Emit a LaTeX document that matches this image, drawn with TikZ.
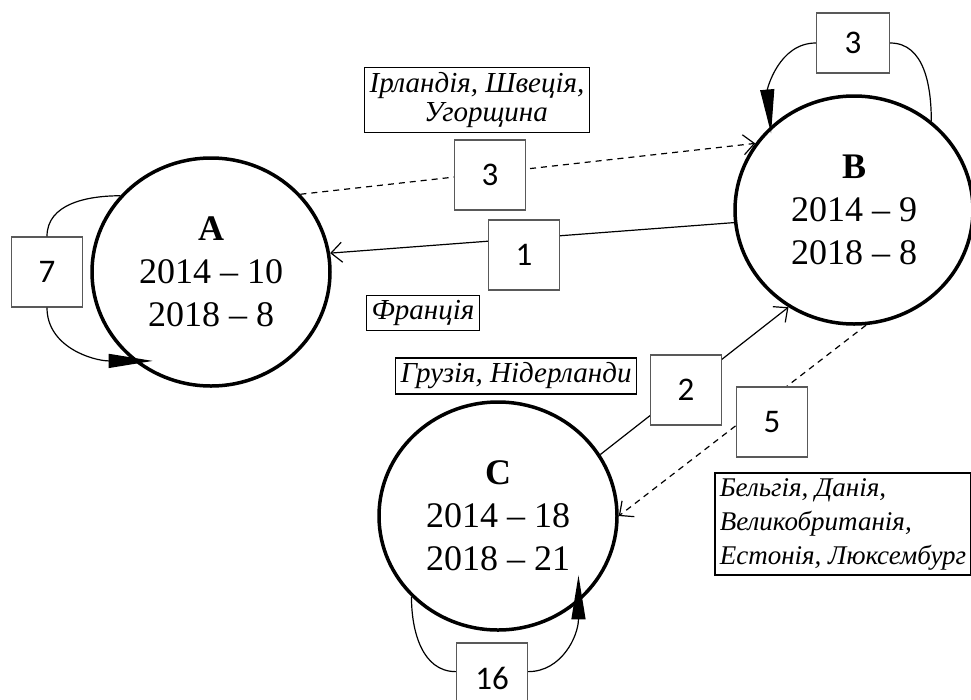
\documentclass[tikz,border=0pt]{standalone}
\usepackage{fontspec}
\setmainfont{Liberation Serif}
\newfontfamily\numfont{Carlito}
\usetikzlibrary{shapes.geometric,arrows.meta}

\begin{document}
\begin{tikzpicture}[x=1pt,y=-1pt]%
  \tikzstyle{group}=[ellipse,draw,line width=3.5pt,minimum width=238pt,minimum height=228pt,inner sep=0,align=center,font=\fontsize{36}{43}\selectfont]
  \tikzstyle{numbox}=[rectangle,draw=black!65,line width=1.3pt,fill=white,minimum width=71pt,minimum height=70pt,font=\numfont\fontsize{33}{36}\selectfont]
  \tikzstyle{countries}=[rectangle,draw,line width=1.6pt,fill=white,inner sep=5pt,font=\itshape\fontsize{29}{34}\selectfont]
  \tikzstyle{flow}=[line width=1.2pt,-{Straight Barb[length=11pt,width=20pt]}]
  \tikzstyle{loopline}=[line width=1.2pt]
  \tikzstyle{loophead}=[loopline,-{Triangle[length=44pt,width=14pt]}]
  \useasboundingbox (0,0) rectangle (971,699);
  \node(A)[group] at (211,272) {\textbf{A}\\2014 – 10\\2018 – 8};
  \node(B)[group] at (854,210) {\textbf{B}\\2014 – 9\\2018 – 8};
  \node(C)[group] at (498,516) {\textbf{C}\\2014 – 18\\2018 – 21};
  % flows between groups
  \draw[flow,dash pattern=on 6pt off 5pt] (A.41) -- (B.146);
  \draw[flow] (B.186) -- (A.9);
  \draw[flow] (C.31) -- (B.236);
  \draw[flow,dash pattern=on 6pt off 5pt] (B.276) -- (C.0);
  \node(n3m)[numbox] at (490,175) {3};
  \node(n1)[numbox] at (524,255) {1};
  \node(n2)[numbox] at (686,390) {2};
  \node(n5)[numbox] at (772,422) {5};
  \node(n7)[numbox] at (47,272) {7};
  \node(n3t)[numbox,minimum width=73pt,minimum height=60pt] at (853,43) {3};
  \node(n16)[numbox] at (492,678) {16};
  % loops
  \draw[loopline] (A.140) to[out=180,in=90] (n7.north);
  \draw[loophead,shorten >=-19pt] (n7.south) to[out=270,in=180] (A.229);
  \draw[loopline] (B.49) to[out=90,in=0] (n3t.east);
  \draw[loophead,shorten >=-7pt] (n3t.west) to[out=180,in=95] (B.135);
  \draw[loopline] (C.223) to[out=270,in=180] (n16.170);
  \draw[loophead,shorten >=-27pt] (n16.10) to[out=0,in=270] (C.313);
  % country lists
  \node(l1)[countries,align=center,font=\itshape\fontsize{29}{29}\selectfont] at (477,100) {Ірландія, Швеція,\\\hspace*{18pt}Угорщина};
  \node(l2)[countries] at (423,313) {Франція};
  \node(l3)[countries] at (516,376) {Грузія, Нідерланди};
  \node(l4)[countries,align=left,anchor=west,font=\itshape\fontsize{27}{34}\selectfont] at (714,524) {Бельгія, Данія,\\Великобританія,\\Естонія, Люксембург};
\end{tikzpicture}
\end{document}
